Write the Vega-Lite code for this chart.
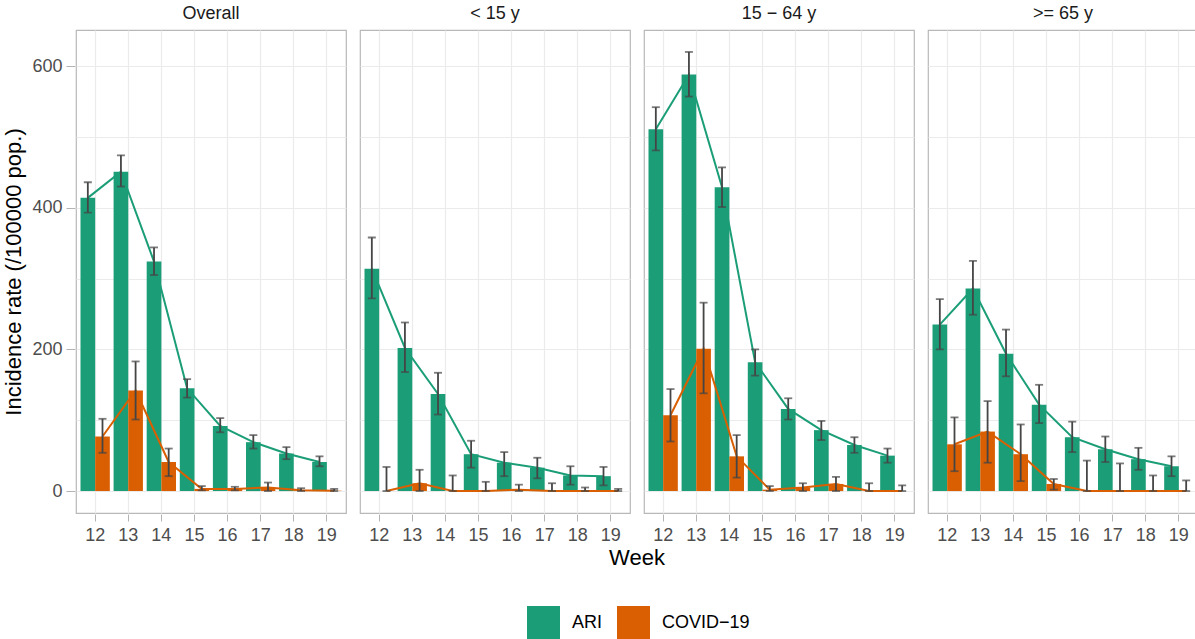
{
  "$schema": "https://vega.github.io/schema/vega-lite/v6.json",
  "background": "white",
  "padding": {"left": 2, "top": 5, "right": 2, "bottom": 0},
  "data": {"values": [
    {"group": "Overall", "week": 12, "type": "ARI", "value": 414, "lo": 393, "hi": 436},
    {"group": "Overall", "week": 13, "type": "ARI", "value": 451, "lo": 430, "hi": 474},
    {"group": "Overall", "week": 14, "type": "ARI", "value": 324, "lo": 305, "hi": 344},
    {"group": "Overall", "week": 15, "type": "ARI", "value": 145, "lo": 132, "hi": 158},
    {"group": "Overall", "week": 16, "type": "ARI", "value": 92, "lo": 83, "hi": 103},
    {"group": "Overall", "week": 17, "type": "ARI", "value": 69, "lo": 60, "hi": 79},
    {"group": "Overall", "week": 18, "type": "ARI", "value": 53, "lo": 45, "hi": 62},
    {"group": "Overall", "week": 19, "type": "ARI", "value": 41, "lo": 35, "hi": 49},
    {"group": "Overall", "week": 12, "type": "COVID−19", "value": 77, "lo": 54, "hi": 102},
    {"group": "Overall", "week": 13, "type": "COVID−19", "value": 142, "lo": 101, "hi": 183},
    {"group": "Overall", "week": 14, "type": "COVID−19", "value": 41, "lo": 21, "hi": 60},
    {"group": "Overall", "week": 15, "type": "COVID−19", "value": 3, "lo": 1, "hi": 7},
    {"group": "Overall", "week": 16, "type": "COVID−19", "value": 3, "lo": 1, "hi": 6},
    {"group": "Overall", "week": 17, "type": "COVID−19", "value": 5, "lo": 0, "hi": 12},
    {"group": "Overall", "week": 18, "type": "COVID−19", "value": 1, "lo": 0, "hi": 4},
    {"group": "Overall", "week": 19, "type": "COVID−19", "value": 0.5, "lo": 0, "hi": 3},
    {"group": "< 15 y", "week": 12, "type": "ARI", "value": 314, "lo": 272, "hi": 358},
    {"group": "< 15 y", "week": 13, "type": "ARI", "value": 202, "lo": 168, "hi": 238},
    {"group": "< 15 y", "week": 14, "type": "ARI", "value": 137, "lo": 108, "hi": 167},
    {"group": "< 15 y", "week": 15, "type": "ARI", "value": 52, "lo": 33, "hi": 71},
    {"group": "< 15 y", "week": 16, "type": "ARI", "value": 40, "lo": 21, "hi": 55},
    {"group": "< 15 y", "week": 17, "type": "ARI", "value": 33, "lo": 18, "hi": 47},
    {"group": "< 15 y", "week": 18, "type": "ARI", "value": 22, "lo": 9, "hi": 35},
    {"group": "< 15 y", "week": 19, "type": "ARI", "value": 21, "lo": 8, "hi": 34},
    {"group": "< 15 y", "week": 12, "type": "COVID−19", "value": 0, "lo": 0, "hi": 34},
    {"group": "< 15 y", "week": 13, "type": "COVID−19", "value": 11, "lo": 0, "hi": 30},
    {"group": "< 15 y", "week": 14, "type": "COVID−19", "value": 0, "lo": 0, "hi": 22},
    {"group": "< 15 y", "week": 15, "type": "COVID−19", "value": 0, "lo": 0, "hi": 13},
    {"group": "< 15 y", "week": 16, "type": "COVID−19", "value": 2, "lo": 0, "hi": 9},
    {"group": "< 15 y", "week": 17, "type": "COVID−19", "value": 0, "lo": 0, "hi": 11},
    {"group": "< 15 y", "week": 18, "type": "COVID−19", "value": 0, "lo": 0, "hi": 5},
    {"group": "< 15 y", "week": 19, "type": "COVID−19", "value": 0, "lo": 0, "hi": 3},
    {"group": "15 − 64 y", "week": 12, "type": "ARI", "value": 511, "lo": 481, "hi": 542},
    {"group": "15 − 64 y", "week": 13, "type": "ARI", "value": 588, "lo": 557, "hi": 620},
    {"group": "15 − 64 y", "week": 14, "type": "ARI", "value": 429, "lo": 401, "hi": 457},
    {"group": "15 − 64 y", "week": 15, "type": "ARI", "value": 182, "lo": 163, "hi": 200},
    {"group": "15 − 64 y", "week": 16, "type": "ARI", "value": 116, "lo": 101, "hi": 131},
    {"group": "15 − 64 y", "week": 17, "type": "ARI", "value": 86, "lo": 72, "hi": 99},
    {"group": "15 − 64 y", "week": 18, "type": "ARI", "value": 65, "lo": 54, "hi": 76},
    {"group": "15 − 64 y", "week": 19, "type": "ARI", "value": 50, "lo": 40, "hi": 60},
    {"group": "15 − 64 y", "week": 12, "type": "COVID−19", "value": 107, "lo": 70, "hi": 144},
    {"group": "15 − 64 y", "week": 13, "type": "COVID−19", "value": 201, "lo": 138, "hi": 266},
    {"group": "15 − 64 y", "week": 14, "type": "COVID−19", "value": 49, "lo": 19, "hi": 79},
    {"group": "15 − 64 y", "week": 15, "type": "COVID−19", "value": 2, "lo": 0, "hi": 7},
    {"group": "15 − 64 y", "week": 16, "type": "COVID−19", "value": 5, "lo": 0, "hi": 11},
    {"group": "15 − 64 y", "week": 17, "type": "COVID−19", "value": 10, "lo": 0, "hi": 20},
    {"group": "15 − 64 y", "week": 18, "type": "COVID−19", "value": 0, "lo": 0, "hi": 11},
    {"group": "15 − 64 y", "week": 19, "type": "COVID−19", "value": 0, "lo": 0, "hi": 8},
    {"group": ">= 65 y", "week": 12, "type": "ARI", "value": 235, "lo": 200, "hi": 271},
    {"group": ">= 65 y", "week": 13, "type": "ARI", "value": 286, "lo": 249, "hi": 325},
    {"group": ">= 65 y", "week": 14, "type": "ARI", "value": 194, "lo": 162, "hi": 228},
    {"group": ">= 65 y", "week": 15, "type": "ARI", "value": 122, "lo": 96, "hi": 150},
    {"group": ">= 65 y", "week": 16, "type": "ARI", "value": 76, "lo": 55, "hi": 98},
    {"group": ">= 65 y", "week": 17, "type": "ARI", "value": 59, "lo": 41, "hi": 77},
    {"group": ">= 65 y", "week": 18, "type": "ARI", "value": 45, "lo": 30, "hi": 61},
    {"group": ">= 65 y", "week": 19, "type": "ARI", "value": 35, "lo": 21, "hi": 49},
    {"group": ">= 65 y", "week": 12, "type": "COVID−19", "value": 66, "lo": 28, "hi": 104},
    {"group": ">= 65 y", "week": 13, "type": "COVID−19", "value": 84, "lo": 40, "hi": 127},
    {"group": ">= 65 y", "week": 14, "type": "COVID−19", "value": 52, "lo": 14, "hi": 94},
    {"group": ">= 65 y", "week": 15, "type": "COVID−19", "value": 10, "lo": 2, "hi": 17},
    {"group": ">= 65 y", "week": 16, "type": "COVID−19", "value": 0, "lo": 0, "hi": 43},
    {"group": ">= 65 y", "week": 17, "type": "COVID−19", "value": 0, "lo": 0, "hi": 39},
    {"group": ">= 65 y", "week": 18, "type": "COVID−19", "value": 0, "lo": 0, "hi": 22},
    {"group": ">= 65 y", "week": 19, "type": "COVID−19", "value": 0, "lo": 0, "hi": 15}
  ]},
  "facet": {
    "column": {
      "field": "group",
      "type": "nominal",
      "sort": ["Overall", "< 15 y", "15 − 64 y", ">= 65 y"],
      "title": "Week",
      "header": {
        "labelFontSize": 18,
        "labelColor": "#1a1a1a",
        "labelPadding": 6,
        "titleOrient": "bottom",
        "titleFontSize": 22,
        "titleFontWeight": "normal",
        "titleColor": "#000000",
        "titlePadding": -6
      }
    }
  },
  "spacing": 12,
  "spec": {
    "width": 270,
    "height": 483,
    "encoding": {
      "x": {
        "field": "week",
        "type": "ordinal",
        "scale": {"paddingInner": 0.114, "paddingOuter": 0.136},
        "axis": {
          "title": null,
          "labelAngle": 0,
          "labelFontSize": 18,
          "labelColor": "#4d4d4d",
          "tickColor": "#b3b3b3",
          "tickSize": 7,
          "labelPadding": 5,
          "domain": false,
          "grid": true,
          "gridColor": "#ebebeb",
          "gridWidth": 1.2,
          "bandPosition": 0.5
        }
      },
      "xOffset": {"field": "type", "type": "nominal", "scale": {"paddingInner": 0, "paddingOuter": 0}}
    },
    "layer": [
      {
        "mark": {"type": "bar"},
        "encoding": {
          "y": {
            "field": "value",
            "type": "quantitative",
            "scale": {"domain": [-31, 651], "nice": false, "zero": false},
            "axis": {
              "title": "Incidence rate (/100000 pop.)",
              "titleFontSize": 22,
              "titleFontWeight": "normal",
              "titleColor": "#000000",
              "titlePadding": 6,
              "values": [0, 100, 200, 300, 400, 500, 600],
              "labelExpr": "datum.value % 200 == 0 ? datum.label : ''",
              "tickOpacity": {"condition": {"test": "datum.value % 200 != 0", "value": 0}, "value": 1},
              "labelFontSize": 18,
              "labelColor": "#4d4d4d",
              "tickColor": "#b3b3b3",
              "tickSize": 9,
              "labelPadding": 4,
              "domain": false,
              "grid": true,
              "gridColor": "#ebebeb",
              "gridWidth": 1.2
            }
          },
          "y2": {"datum": 0},
          "color": {
            "field": "type",
            "type": "nominal",
            "scale": {"domain": ["ARI", "COVID−19"], "range": ["#1b9e77", "#d95f02"]},
            "legend": {
              "title": null,
              "orient": "none",
              "legendX": 451,
              "legendY": 576,
              "direction": "horizontal",
              "symbolType": "square",
              "symbolSize": 1089,
              "symbolStrokeWidth": 0,
              "labelFontSize": 18,
              "labelColor": "#000000",
              "labelOffset": 12,
              "columnPadding": 14
            }
          }
        }
      },
      {
        "mark": {"type": "line", "strokeWidth": 2},
        "encoding": {
          "y": {"field": "value", "type": "quantitative"},
          "color": {"field": "type", "type": "nominal", "legend": null}
        }
      },
      {
        "mark": {"type": "rule", "color": "#454545", "strokeWidth": 1.8},
        "encoding": {
          "y": {"field": "lo", "type": "quantitative"},
          "y2": {"field": "hi"}
        }
      },
      {
        "mark": {"type": "tick", "color": "#454545", "size": 8, "thickness": 1.8},
        "encoding": {
          "y": {"field": "lo", "type": "quantitative"}
        }
      },
      {
        "mark": {"type": "tick", "color": "#454545", "size": 8, "thickness": 1.8},
        "encoding": {
          "y": {"field": "hi", "type": "quantitative"}
        }
      }
    ]
  },
  "resolve": {"scale": {"y": "shared"}},
  "config": {
    "font": "Liberation Sans",
    "view": {"stroke": "#b8b8b8", "strokeWidth": 1.2},
    "axis": {"labelFont": "Liberation Sans", "titleFont": "Liberation Sans"}
  }
}
